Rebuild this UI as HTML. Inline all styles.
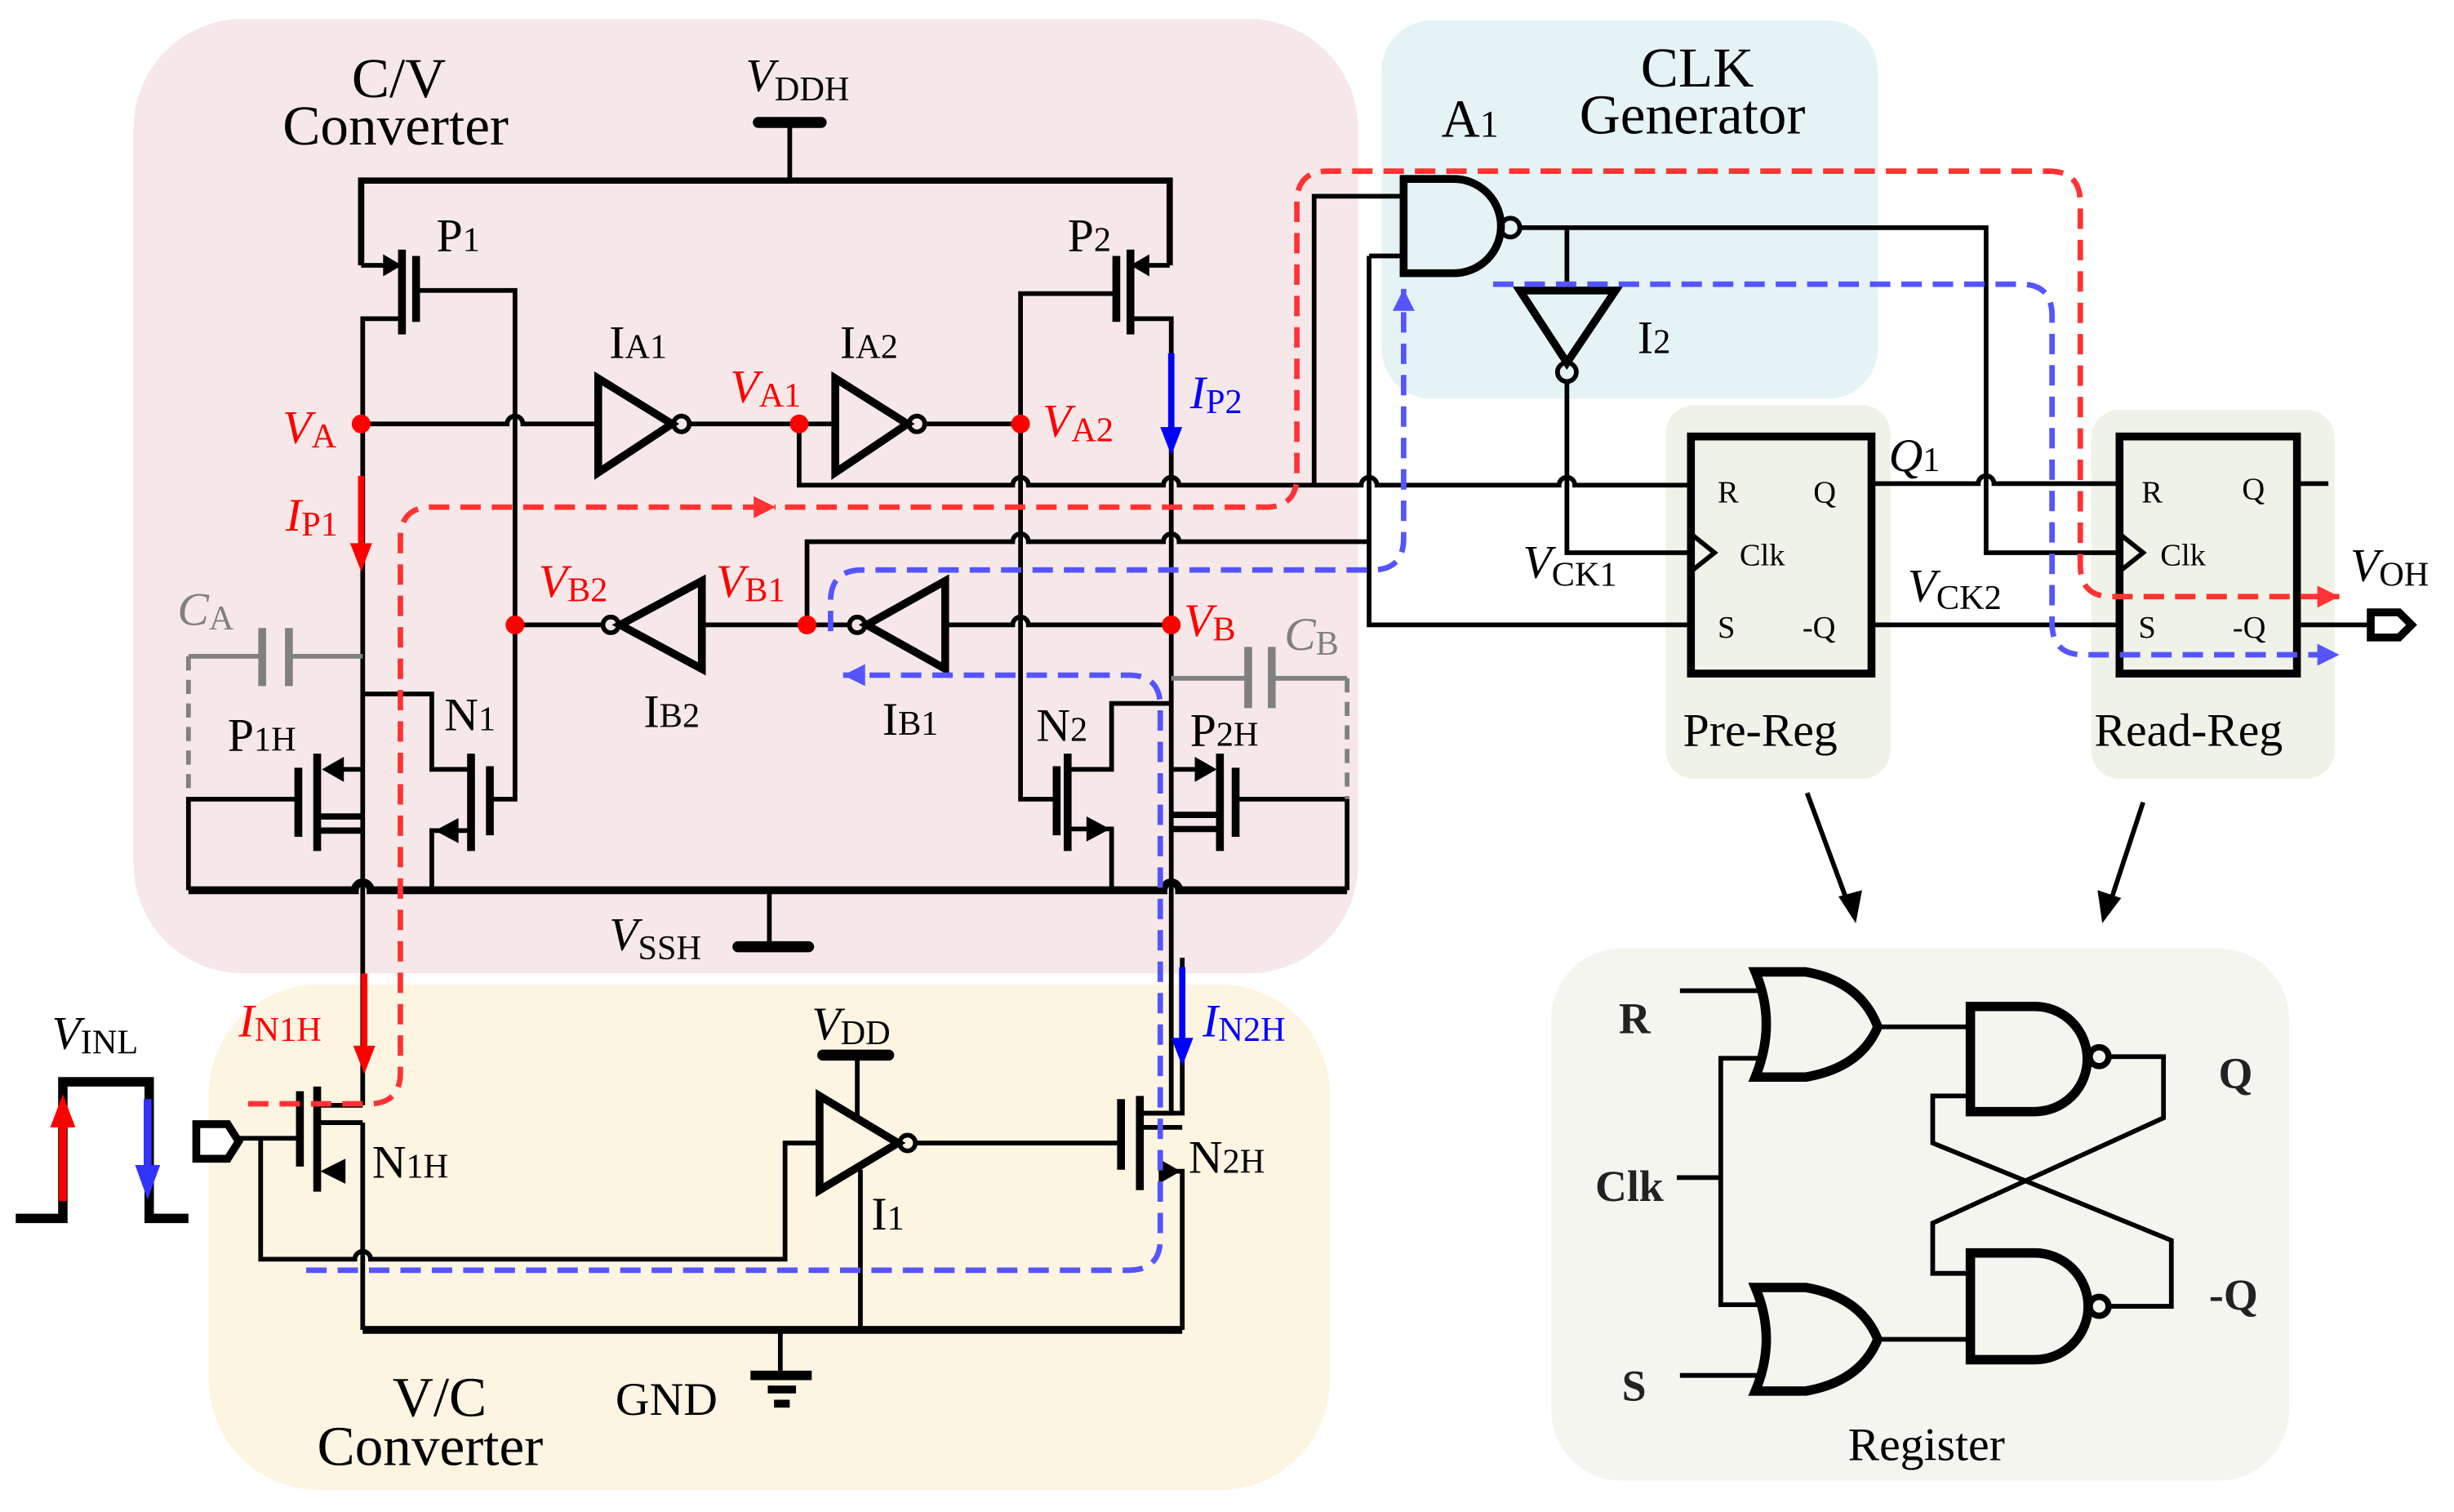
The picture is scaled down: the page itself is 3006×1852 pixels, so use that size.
<!DOCTYPE html>
<html><head><meta charset="utf-8"><style>
html,body{margin:0;padding:0;background:#fff;}
svg{display:block;}
text{font-family:"Liberation Serif",serif;}
</style></head><body>
<svg width="3006" height="1852" viewBox="0 0 1563 963" xmlns="http://www.w3.org/2000/svg">
<defs>
<marker id="ar" markerUnits="userSpaceOnUse" markerWidth="20" markerHeight="20" refX="0" refY="0" orient="auto" overflow="visible"><path d="M-14,-7 L0,0 L-14,7 Z" fill="#ff3333"/></marker>
<marker id="ab" markerUnits="userSpaceOnUse" markerWidth="20" markerHeight="20" refX="0" refY="0" orient="auto" overflow="visible"><path d="M-14,-7 L0,0 L-14,7 Z" fill="#5555ff"/></marker>
</defs>
<!-- regions -->
<rect x="85" y="12" width="780" height="608" rx="70" fill="#f6e8e8"/>
<rect x="133" y="627" width="714" height="322" rx="70" fill="#fdf4e2"/>
<rect x="880" y="13" width="316" height="241" rx="32" fill="#e6f3f5"/>
<rect x="1061" y="258" width="143" height="238" rx="18" fill="#eff2e6"/>
<rect x="1332" y="261" width="155" height="235" rx="18" fill="#eff2e6"/>
<rect x="988" y="604" width="470" height="339" rx="45" fill="#f4f5ef"/>

<g fill="none" stroke="#000" stroke-width="3" stroke-linejoin="miter">
<path d="M483 78 H523" stroke-width="7" stroke-linecap="round"/>
<path d="M503 78 V115"/>
<path d="M230 169 V115 H745 V169" stroke-width="4"/>
<path d="M230 169 H246"/>
<path d="M256 159 V213" stroke-width="5"/>
<path d="M265 163 V205" stroke-width="5"/>
<path d="M256 203 H231 V704"/>
<path d="M265 185 H328 V509 H312"/>
<path d="M745 169 H730"/>
<path d="M720 159 V213" stroke-width="5"/>
<path d="M711 163 V205" stroke-width="5"/>
<path d="M720 203 H746 V709 H726"/>
<path d="M711 187 H650 V509 H673"/>
<path d="M231 442 H275 V490 H300"/>
<path d="M300 480 V542" stroke-width="5"/>
<path d="M312 488 V532" stroke-width="5"/>
<path d="M300 529 H275 V567"/>
<path d="M202 480 V542" stroke-width="5"/>
<path d="M190 489 V533" stroke-width="5"/>
<path d="M120 567 V509 H190"/>
<path d="M231 490 H215"/>
<path d="M202 520 H231 M202 529 H231" stroke-width="4"/>
<path d="M746 448 H708 V490 H680"/>
<path d="M680 480 V542" stroke-width="5"/>
<path d="M673 488 V532" stroke-width="5"/>
<path d="M680 528 H708 V567"/>
<path d="M777 480 V542" stroke-width="5"/>
<path d="M787 489 V533" stroke-width="5"/>
<path d="M787 509 H858 V567"/>
<path d="M746 490 H762"/>
<path d="M746 519 H777 M746 528 H777" stroke-width="4"/>
<path d="M120 567 H226 a5 5 0 0 1 10 0 H741 a5 5 0 0 1 10 0 H858" stroke-width="5"/>
<path d="M490 567 V603"/>
<path d="M470 603 H515" stroke-width="7" stroke-linecap="round"/>
<path d="M230 270 H323 a5 5 0 0 1 10 0 H381"/>
<path d="M381 241 V301 L428 270 Z" stroke-width="5"/>
<circle cx="434" cy="270" r="5"/>
<path d="M439 270 H532"/>
<path d="M532 241 V301 L578 270 Z" stroke-width="5"/>
<circle cx="584" cy="270" r="5"/>
<path d="M589 270 H650"/>
<path d="M509 270 V309 H645 a5 5 0 0 1 10 0 H741 a5 5 0 0 1 10 0 H867 a5 5 0 0 1 10 0 H993 a5 5 0 0 1 10 0 H1077"/>
<path d="M837 309 V125 H894"/>
<path d="M514 398 V345 H645 a5 5 0 0 1 10 0 H741 a5 5 0 0 1 10 0 H872"/>
<path d="M872 163 H894 M872 163 V398 H1077"/>
<path d="M746 398 H655 a5 5 0 0 0 -10 0 H602"/>
<path d="M602 370 V426 L552 398 Z" stroke-width="5"/>
<circle cx="546" cy="398" r="5"/>
<path d="M541 398 H447"/>
<path d="M447 370 V426 L395 398 Z" stroke-width="5"/>
<circle cx="389" cy="398" r="5"/>
<path d="M384 398 H328"/>
<path d="M231 704 H202 M231 715 H202"/>
<path d="M202 692 V759" stroke-width="5"/>
<path d="M191 695 V743" stroke-width="5"/>
<path d="M152 725 H191"/>
<path d="M166 725 V802 H226 a5 5 0 0 1 10 0 H500 V728 H522"/>
<path d="M231 715 V847"/>
<path d="M125 716 H145 L152 727 L145 738 H125 Z" stroke-width="5" fill="#fff"/>
<path d="M522 698 V758 L572 728 Z" stroke-width="5"/>
<circle cx="578" cy="728" r="5"/>
<path d="M583 728 H714"/>
<path d="M546 672 V712"/>
<path d="M524 672 H566" stroke-width="7" stroke-linecap="round"/>
<path d="M548 745 V847"/>
<path d="M714 700 V745" stroke-width="5"/>
<path d="M726 698 V758" stroke-width="5"/>
<path d="M753 610 V709 H726 M753 718 H726"/>
<path d="M738 746 H753 V847"/>
<path d="M231 847 H753" stroke-width="5"/>
<path d="M497 847 V873"/>
<path d="M478 876 H517" stroke-width="6"/>
<path d="M489 885 H507" stroke-width="5"/>
<path d="M493 894 H503" stroke-width="5"/>
<path d="M10 776 H40 V689 H95 V776 H120" stroke-width="6"/>
<path d="M894 114 H926 A30 30 0 0 1 926 174 H894 Z" stroke-width="5"/>
<circle cx="962" cy="145" r="6"/>
<path d="M968 145 H1265 V352 H1350"/>
<path d="M998 145 V185"/>
<path d="M968 185 H1029 L998 231 Z" stroke-width="5"/>
<circle cx="998" cy="237" r="6"/>
<path d="M998 243 V352 H1077"/>
<rect x="1077" y="278" width="115" height="151" stroke-width="5"/>
<rect x="1350" y="278" width="113" height="151" stroke-width="5"/>
<path d="M1077 340 L1092 352 L1077 364" stroke-width="3"/>
<path d="M1350 340 L1365 352 L1350 364" stroke-width="3"/>
<path d="M1192 308 H1260 a5 5 0 0 1 10 0 H1350"/>
<path d="M1463 308 H1483"/>
<path d="M1192 398 H1350"/>
<path d="M1463 398 H1510"/>
<path d="M1510 390 H1528 L1536 398 L1528 406 H1510 Z" stroke-width="5" fill="#fff"/>
<path d="M1118 619 H1150 Q1185 625 1196 654 Q1185 680 1150 686 H1118 Q1132 652 1118 619 Z" stroke-width="6"/>
<path d="M1118 820 H1150 Q1185 826 1196 853 Q1185 880 1150 886 H1118 Q1132 853 1118 820 Z" stroke-width="6"/>
<path d="M1255 641 H1296 A33.5 33.5 0 0 1 1296 708 H1255 Z" stroke-width="6"/>
<path d="M1255 798 H1296 A34 34 0 0 1 1296 866 H1255 Z" stroke-width="6"/>
<circle cx="1337" cy="673" r="6" stroke-width="4"/>
<circle cx="1337" cy="832" r="6" stroke-width="4"/>
<path d="M1196 654 H1255 M1196 853 H1255"/>
<path d="M1343 673 H1378 V712 L1231 779 V811 H1255"/>
<path d="M1255 698 H1231 V728 L1383 790 V832 H1343"/>
<path d="M1070 631 H1123 M1070 876 H1123 M1068 750 H1096 M1122 674 H1096 V831 H1122"/>
<path d="M1151 505 L1178 578" stroke-width="3"/>
<path d="M1365 511 L1343 578" stroke-width="3"/>
</g>
<g fill="#000">
<polygon points="256,169 244,162 244,176"/>
<polygon points="720,169 732,162 732,176"/>
<polygon points="277,529 292,521 292,537"/>
<polygon points="205,490 219,482 219,498"/>
<polygon points="707,528 692,520 692,536"/>
<polygon points="775,490 761,482 761,498"/>
<polygon points="204,746 220,738 220,754"/>
<polygon points="752,746 738,738 738,754"/>
<polygon points="1182,588 1171,571 1186,567"/>
<polygon points="1339,588 1336,567 1351,572"/>
</g>
<g stroke="#808080" fill="none">
<path d="M120 418 H167 M184 418 H231" stroke-width="3"/>
<path d="M167 400 V437 M184 400 V437" stroke-width="5"/>
<path d="M120 418 V508" stroke-width="3" stroke-dasharray="9 6"/>
<path d="M746 432 H795 M810 432 H858" stroke-width="3"/>
<path d="M795 412 V451 M810 412 V451" stroke-width="5"/>
<path d="M858 432 V509" stroke-width="3" stroke-dasharray="9 6"/>
</g>
<g fill="none" stroke-width="3.5" stroke-dasharray="13 7">
<path d="M158 703 H235 Q255 703 255 683 V343 Q255 323 275 323 H494" stroke="#ff3333" marker-end="url(#ar)"/>
<path d="M500 323 H806 Q826 323 826 303 V129 Q826 109 846 109 H1305 Q1325 109 1325 129 V360 Q1325 380 1345 380 H1490" stroke="#ff3333" marker-end="url(#ar)"/>
<path d="M195 809 H719 Q739 809 739 789 V450 Q739 430 719 430 H537" stroke="#5555ff" marker-end="url(#ab)"/>
<path d="M529 402 V383 Q529 363 549 363 H874 Q894 363 894 343 V184" stroke="#5555ff" marker-end="url(#ab)"/>
<path d="M951 181 H1287 Q1307 181 1307 201 V397 Q1307 417 1327 417 H1490" stroke="#5555ff" marker-end="url(#ab)"/>
</g>
<g stroke-width="4">
<path d="M230 303 V350" stroke="#ff0000"/><polygon points="230,364 223,346 237,346" fill="#ff0000"/>
<path d="M232 620 V670" stroke="#ff0000"/><polygon points="232,684 225,666 239,666" fill="#ff0000"/>
<path d="M746 225 V276" stroke="#0000ff"/><polygon points="746,290 739,272 753,272" fill="#0000ff"/>
<path d="M753 616 V665" stroke="#0000ff"/><polygon points="753,679 746,661 760,661" fill="#0000ff"/>
<path d="M40 765 V712" stroke="#ff0000" stroke-width="5"/><polygon points="40,697 32,718 48,718" fill="#ff0000"/>
<path d="M94 700 V748" stroke="#3333ff" stroke-width="5"/><polygon points="94,764 86,742 102,742" fill="#3333ff"/>
</g>
<g fill="#ff0000">
<circle cx="230" cy="270" r="6"/><circle cx="509" cy="270" r="6"/><circle cx="650" cy="270" r="6"/>
<circle cx="328" cy="398" r="6"/><circle cx="514" cy="398" r="6"/><circle cx="746" cy="398" r="6"/>
</g>
<g font-size="36" fill="#000">
<text x="224" y="62">C/V</text>
<text x="180" y="92">Converter</text>
<text x="250" y="902">V/C</text>
<text x="202" y="933">Converter</text>
<text x="1045" y="55">CLK</text>
<text x="1006" y="85">Generator</text>
<text x="918" y="87" font-size="34">A<tspan font-size="24">1</tspan></text>
</g>
<g font-size="30" fill="#000">
<text x="475" y="58"><tspan font-style="italic">V</tspan><tspan font-size="22" dy="6">DDH</tspan></text>
<text x="278" y="160">P<tspan font-size="22">1</tspan></text>
<text x="680" y="160">P<tspan font-size="22">2</tspan></text>
<text x="388" y="228">I<tspan font-size="22">A1</tspan></text>
<text x="535" y="228">I<tspan font-size="22">A2</tspan></text>
<text x="145" y="478">P<tspan font-size="22">1H</tspan></text>
<text x="283" y="465">N<tspan font-size="22">1</tspan></text>
<text x="410" y="463">I<tspan font-size="22">B2</tspan></text>
<text x="562" y="468">I<tspan font-size="22">B1</tspan></text>
<text x="660" y="472">N<tspan font-size="22">2</tspan></text>
<text x="758" y="475">P<tspan font-size="22">2H</tspan></text>
<text x="388" y="605"><tspan font-style="italic">V</tspan><tspan font-size="22" dy="6">SSH</tspan></text>
<text x="33" y="668"><tspan font-style="italic">V</tspan><tspan font-size="22" dy="3">INL</tspan></text>
<text x="517" y="662"><tspan font-style="italic">V</tspan><tspan font-size="22" dy="3">DD</tspan></text>
<text x="237" y="750">N<tspan font-size="22">1H</tspan></text>
<text x="555" y="783">I<tspan font-size="22">1</tspan></text>
<text x="757" y="747">N<tspan font-size="22">2H</tspan></text>
<text x="392" y="901">GND</text>
<text x="1043" y="225">I<tspan font-size="22">2</tspan></text>
<text x="1203" y="300"><tspan font-style="italic">Q</tspan><tspan font-size="22">1</tspan></text>
<text x="970" y="368"><tspan font-style="italic">V</tspan><tspan font-size="22" dy="5">CK1</tspan></text>
<text x="1215" y="383"><tspan font-style="italic">V</tspan><tspan font-size="22" dy="5">CK2</tspan></text>
<text x="1497" y="370"><tspan font-style="italic">V</tspan><tspan font-size="22" dy="3">OH</tspan></text>
<text x="1072" y="475">Pre-Reg</text>
<text x="1334" y="475">Read-Reg</text>
<text x="1177" y="930">Register</text>
</g>
<g font-size="30" fill="#ff0000">
<text x="180" y="282"><tspan font-style="italic">V</tspan><tspan font-size="22" dy="3">A</tspan></text>
<text x="465" y="256"><tspan font-style="italic">V</tspan><tspan font-size="22" dy="3">A1</tspan></text>
<text x="664" y="278"><tspan font-style="italic">V</tspan><tspan font-size="22" dy="3">A2</tspan></text>
<text x="182" y="338"><tspan font-style="italic">I</tspan><tspan font-size="22" dy="3">P1</tspan></text>
<text x="343" y="380"><tspan font-style="italic">V</tspan><tspan font-size="22" dy="3">B2</tspan></text>
<text x="456" y="380"><tspan font-style="italic">V</tspan><tspan font-size="22" dy="3">B1</tspan></text>
<text x="754" y="405"><tspan font-style="italic">V</tspan><tspan font-size="22" dy="3">B</tspan></text>
<text x="152" y="660"><tspan font-style="italic">I</tspan><tspan font-size="22" dy="3">N1H</tspan></text>
</g>
<g font-size="30" fill="#0000ff">
<text x="758" y="260"><tspan font-style="italic">I</tspan><tspan font-size="22" dy="3">P2</tspan></text>
<text x="766" y="660"><tspan font-style="italic">I</tspan><tspan font-size="22" dy="3">N2H</tspan></text>
</g>
<g font-size="30" fill="#808080">
<text x="113" y="398"><tspan font-style="italic">C</tspan><tspan font-size="22" dy="3">A</tspan></text>
<text x="818" y="414"><tspan font-style="italic">C</tspan><tspan font-size="22" dy="3">B</tspan></text>
</g>
<g font-size="20" fill="#000">
<text x="1094" y="320">R</text><text x="1155" y="320">Q</text>
<text x="1108" y="360">Clk</text>
<text x="1094" y="406">S</text><text x="1148" y="406">-Q</text>
<text x="1364" y="320">R</text><text x="1428" y="318">Q</text>
<text x="1376" y="360">Clk</text>
<text x="1362" y="406">S</text><text x="1422" y="406">-Q</text>
</g>
<g font-size="28" font-weight="bold" fill="#222">
<text x="1031" y="658">R</text>
<text x="1016" y="765">Clk</text>
<text x="1033" y="892">S</text>
<text x="1413" y="693">Q</text>
<text x="1407" y="834">-Q</text>
</g>
</svg>
</body></html>
